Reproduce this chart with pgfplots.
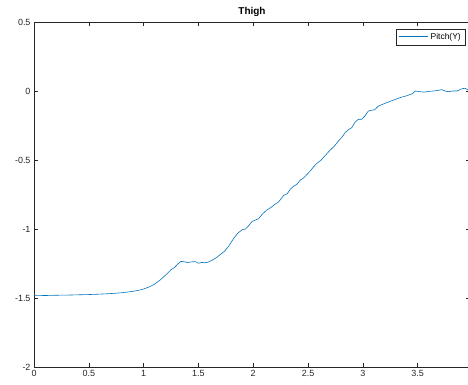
\documentclass[border=0pt]{standalone}
\usepackage{pgfplots}
\pgfplotsset{compat=1.18}
\usepackage{fontspec}
\setmainfont{Liberation Sans}
\definecolor{mblue}{rgb}{0,0.447,0.741}
\definecolor{axgray}{rgb}{0.15,0.15,0.15}
\begin{document}
\begin{tikzpicture}
\path[use as bounding box] (-34bp,-18bp) rectangle (434bp,367bp);
\begin{axis}[
  at={(0,0)}, anchor=south west,
  scale only axis, width=436bp, height=345bp,
  xmin=0, xmax=3.978, ymin=-2, ymax=0.5,
  xtick={0,0.5,...,3.5}, ytick={-2,-1.5,...,0.5},
  tick align=inside, major tick length=4bp,
  axis line style={axgray, line width=0.5pt},
  tick style={axgray, line width=0.5pt},
  ticklabel style={font=\fontsize{9}{10}\selectfont, text=axgray},
  /pgf/number format/assume math mode=true,
  yticklabel style={/pgf/number format/fixed},
  xticklabel style={/pgf/number format/fixed},
  title={\textbf{Thigh}},
  title style={font=\fontsize{10}{11}\selectfont, yshift=-4bp},
  legend style={at={(434bp-3bp,345bp-7bp)}, anchor=north east, font=\fontsize{8.5}{9}\selectfont, draw=axgray, line width=0.5pt, inner sep=2pt, row sep=0pt},
  legend cell align=left,
  legend image code/.code={\draw[mblue, line width=0.8pt] (0cm,0.02cm) -- (1.05cm,0.02cm);},
]
\addplot[mblue, line width=0.6pt] coordinates {
(0,-1.48) (0.1,-1.482) (0.2,-1.48) (0.3,-1.479) (0.4,-1.477) (0.5,-1.475)
(0.6,-1.472) (0.7,-1.468) (0.8,-1.462) (0.9,-1.452) (0.95,-1.445) (1.0,-1.435)
(1.05,-1.42) (1.1,-1.40) (1.15,-1.37) (1.2,-1.335) (1.25,-1.295) (1.28,-1.28)
(1.31,-1.255) (1.34,-1.235) (1.37,-1.237) (1.40,-1.243) (1.44,-1.238) (1.47,-1.236)
(1.50,-1.248) (1.53,-1.242) (1.56,-1.245) (1.59,-1.240) (1.62,-1.228) (1.66,-1.21)
(1.70,-1.185) (1.74,-1.16) (1.78,-1.12) (1.82,-1.07) (1.86,-1.03) (1.90,-1.005)
(1.93,-1.0) (1.96,-0.975) (1.99,-0.945) (2.02,-0.935) (2.05,-0.925) (2.08,-0.895)
(2.12,-0.865) (2.16,-0.845) (2.20,-0.82) (2.23,-0.805) (2.26,-0.775) (2.28,-0.755)
(2.31,-0.745) (2.34,-0.71) (2.37,-0.69) (2.40,-0.675) (2.43,-0.645) (2.46,-0.63)
(2.49,-0.605) (2.52,-0.58) (2.55,-0.55) (2.58,-0.525) (2.62,-0.50) (2.66,-0.465)
(2.70,-0.43) (2.74,-0.40) (2.78,-0.36) (2.81,-0.335) (2.84,-0.30) (2.87,-0.28)
(2.90,-0.265) (2.93,-0.225) (2.96,-0.205) (2.99,-0.205) (3.02,-0.18) (3.05,-0.145)
(3.08,-0.14) (3.11,-0.135) (3.14,-0.11) (3.17,-0.10) (3.20,-0.09) (3.25,-0.075)
(3.30,-0.06) (3.35,-0.045) (3.40,-0.035) (3.45,-0.02) (3.48,0.0) (3.52,-0.005)
(3.56,-0.008) (3.60,-0.003) (3.64,0.0) (3.68,0.003) (3.72,0.01) (3.75,0.0)
(3.78,-0.005) (3.82,0.0) (3.86,0.0) (3.90,0.015) (3.93,0.02) (3.96,0.01)
};
\addlegendentry{Pitch(Y)}
\end{axis}
\end{tikzpicture}
\end{document}
